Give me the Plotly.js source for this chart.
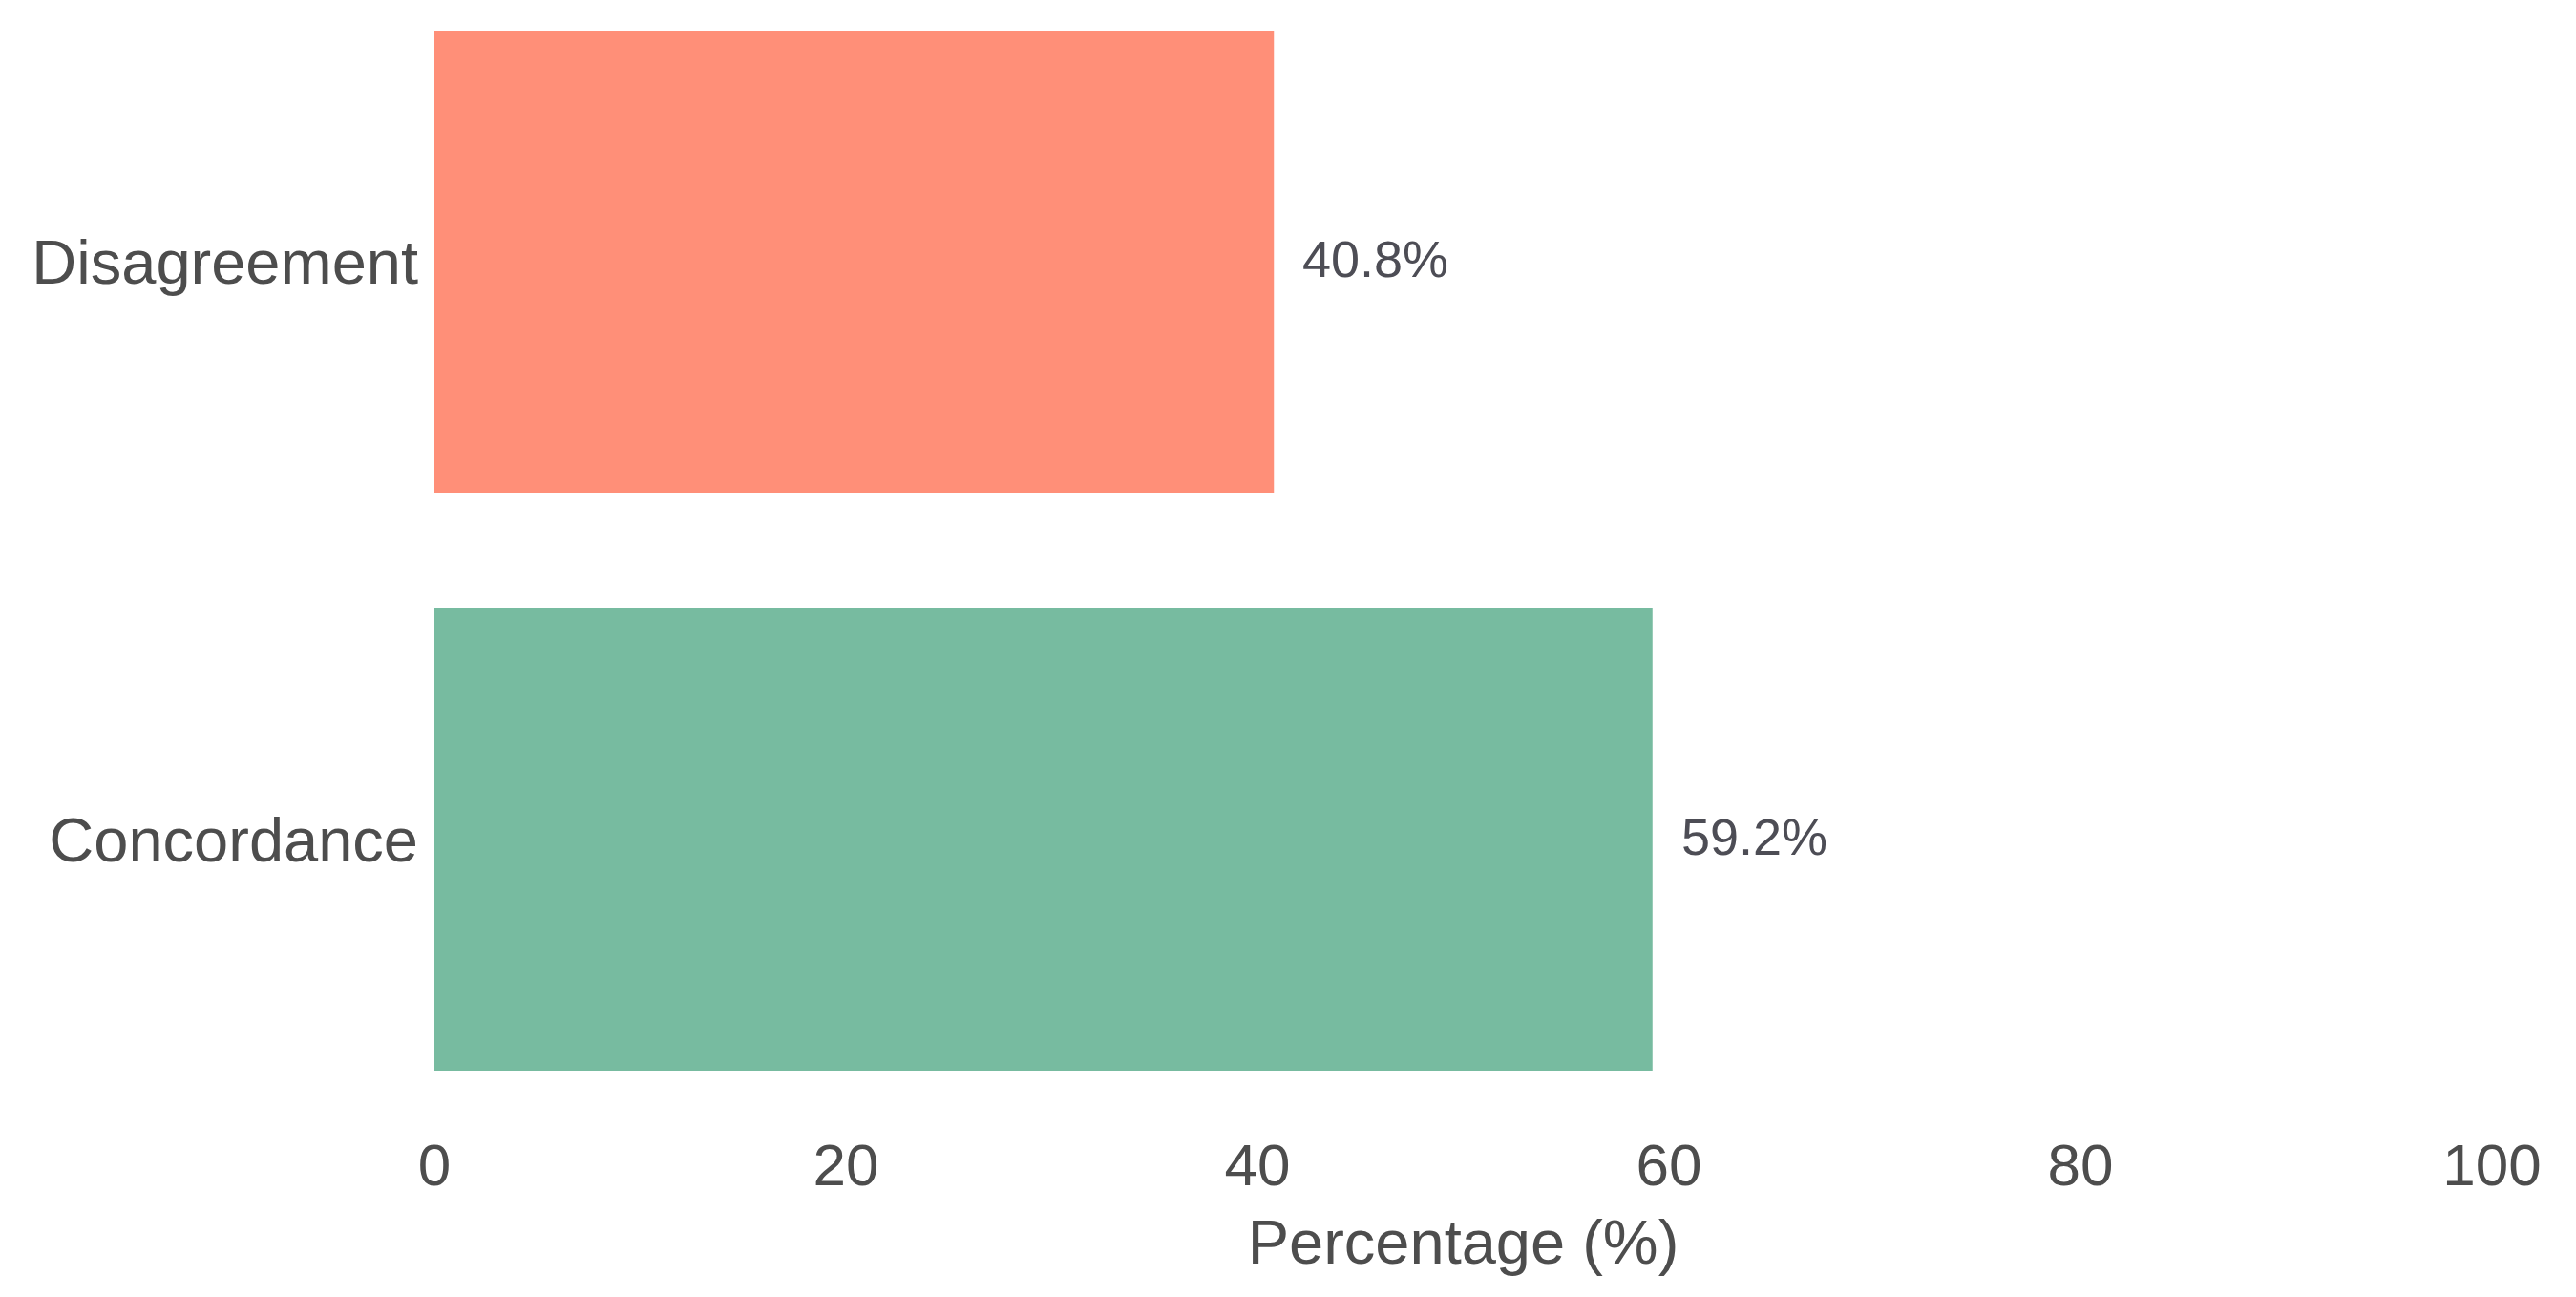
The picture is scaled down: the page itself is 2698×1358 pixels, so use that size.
<!DOCTYPE html>
<html>
<head>
<meta charset="utf-8">
<script src="https://cdn.plot.ly/plotly-3.0.1.min.js"></script>
<style>html,body{margin:0;padding:0;background:#fff;}#chart{width:2698px;height:1358px;}</style>
</head>
<body>
<div id="chart"></div>
<script>
const categories = ["Concordance", "Disagreement"];
const percentages = [59.2, 40.8];
const barColors = ["#77bba0", "#ff8f78"];
const xTickValues = [0, 20, 40, 60, 80, 100];
const xTickLabels = ["0", "20", "40", "60", "80", "100"];

const textColor = "#4d4d4d";
const fontFamily = "'Liberation Sans', Arial, sans-serif";

const trace = {
  type: "bar",
  orientation: "h",
  x: percentages,
  y: categories,
  marker: {color: barColors},
  hoverinfo: "none"
};

const annotations = percentages.map((v, i) => ({
  x: v,
  y: categories[i],
  xref: "x",
  yref: "y",
  text: v.toFixed(1) + "%",
  showarrow: false,
  xanchor: "left",
  yanchor: "middle",
  xshift: 28,
  yshift: 3,
  font: {family: fontFamily, size: 54, color: "#4d4d55"}
}));

const layout = {
  width: 2698,
  height: 1358,
  margin: {l: 455, r: 88, t: 32, b: 237, pad: 0},
  paper_bgcolor: "#ffffff",
  plot_bgcolor: "#ffffff",
  showlegend: false,
  bargap: 0.2,
  font: {family: fontFamily, color: textColor},
  xaxis: {
    range: [0, 100],
    tickvals: xTickValues,
    ticktext: xTickLabels,
    showgrid: false,
    zeroline: false,
    showline: false,
    ticks: "",
    ticklabelstandoff: 57,
    tickfont: {family: fontFamily, size: 62, color: textColor},
    title: {text: "Percentage (%)", font: {family: fontFamily, size: 65, color: textColor}, standoff: 24}
  },
  yaxis: {
    type: "category",
    range: [-0.4, 1.4],
    showgrid: false,
    zeroline: false,
    showline: false,
    ticks: "",
    ticklabelstandoff: 16,
    tickfont: {family: fontFamily, size: 65, color: textColor}
  },
  annotations: annotations
};

Plotly.newPlot("chart", [trace], layout, {displayModeBar: false, staticPlot: true});
</script>
</body>
</html>
